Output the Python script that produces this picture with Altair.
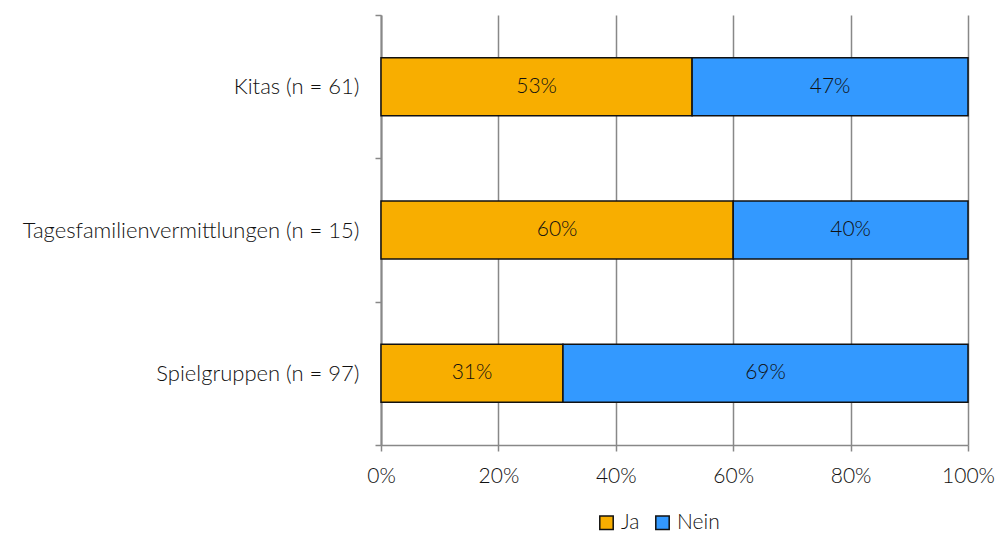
import altair as alt
import pandas as pd

categories = ["Kitas (n = 61)", "Tagesfamilienvermittlungen (n = 15)", "Spielgruppen (n = 97)"]
ja = [53, 60, 31]
nein = [47, 40, 69]
series = ["Ja", "Nein"]
colors = ["#F8AE00", "#3399FF"]

rows = []
for c, a, b in zip(categories, ja, nein):
    rows.append({"cat": c, "serie": "Ja", "order": 0, "val": a})
    rows.append({"cat": c, "serie": "Nein", "order": 1, "val": b})
df = pd.DataFrame(rows)

FONT = "Lato"
FW = 300
TXT = "#111111"

base = alt.Chart(df).transform_stack(
    stack="val", groupby=["cat"], sort=[alt.SortField("order")], as_=["x0", "x1"]
).transform_calculate(mid="(datum.x0 + datum.x1) / 2")

yenc = alt.Y("cat:N", sort=categories, title=None,
             scale=alt.Scale(paddingInner=0, paddingOuter=0),
             axis=alt.Axis(tickBand="extent", labelFontSize=22, labelFont=FONT, labelFontWeight=FW,
                           labelColor=TXT,
                           labelPadding=16, tickSize=6, tickColor="#888888", domainColor="#888888",
                           domainWidth=2, tickWidth=1.5, grid=False, labelLimit=400))

bars = base.mark_bar(stroke="#111111", strokeWidth=1.5, height=alt.RelativeBandSize(0.405)).encode(
    y=yenc,
    x=alt.X("x0:Q", scale=alt.Scale(domain=[0, 100], nice=False), title=None,
            axis=alt.Axis(values=[0, 20, 40, 60, 80, 100], labelExpr="datum.value + '%'",
                          labelFontSize=21, labelFont=FONT, labelFontWeight=FW, labelColor=TXT,
                          labelPadding=14, labelFlush=False,
                          grid=True, gridColor="#888888", gridWidth=1.5, tickSize=6,
                          tickColor="#888888", domainColor="#888888", domainWidth=1.5, tickWidth=1.5)),
    x2="x1:Q",
    color=alt.Color("serie:N", scale=alt.Scale(domain=series, range=colors), title=None,
                    legend=alt.Legend(orient="none", legendX=215, legendY=497, direction="horizontal",
                                      symbolType="square", symbolSize=180, symbolStrokeColor="#111111",
                                      symbolStrokeWidth=1.5, labelFontSize=21, labelFont=FONT,
                                      labelFontWeight=FW,
                                      labelColor=TXT, columnPadding=12, labelOffset=4)),
)

labels = base.mark_text(fontSize=21, font=FONT, fontWeight=FW, color=TXT).encode(
    y=alt.Y("cat:N", sort=categories),
    x=alt.X("mid:Q"),
    text=alt.Text("label:N"),
).transform_calculate(label="datum.val + '%'")

chart = alt.layer(bars, labels).properties(
    width=587, height=430,
    autosize=alt.AutoSizeParams(type="none"),
    padding={"left": 381, "top": 15, "right": 28, "bottom": 88},
).configure_view(stroke=None)

chart.save("out.html", embed_options={"renderer": "svg", "actions": False})
